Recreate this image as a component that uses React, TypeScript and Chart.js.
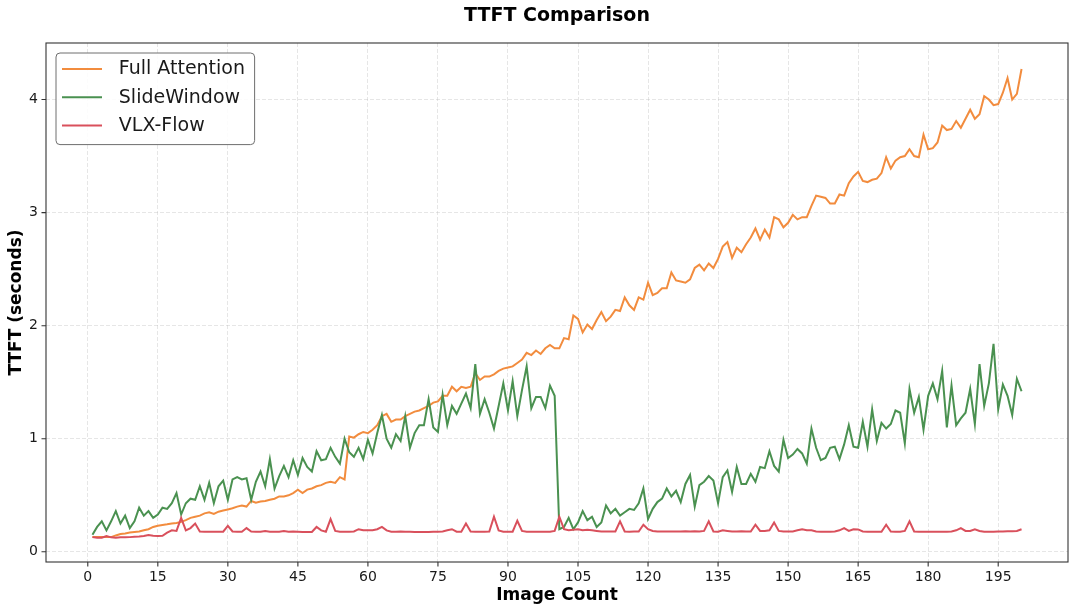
import React, { useEffect, useRef } from "react";
import { Chart, registerables } from "chart.js";

Chart.register(...registerables);

const imageCount: number[] = Array.from({ length: 200 }, (_, i) => i + 1);

const fullAttention: number[] = [
  0.13, 0.13, 0.13, 0.13, 0.13, 0.145, 0.157, 0.163, 0.17, 0.175,
  0.18, 0.19, 0.2, 0.22, 0.23, 0.237, 0.243, 0.25, 0.255, 0.265,
  0.28, 0.3, 0.31, 0.32, 0.34, 0.35, 0.335, 0.355, 0.365, 0.375,
  0.385, 0.4, 0.41, 0.4, 0.45, 0.435, 0.445, 0.45, 0.46, 0.47,
  0.49, 0.49, 0.5, 0.52, 0.55, 0.52, 0.55, 0.56, 0.58, 0.59,
  0.61, 0.62, 0.61, 0.66, 0.64, 1.02, 1.01, 1.04, 1.06, 1.05,
  1.08, 1.12, 1.2, 1.22, 1.15, 1.17, 1.17, 1.2, 1.22, 1.24,
  1.25, 1.27, 1.29, 1.32, 1.33, 1.38, 1.38, 1.46, 1.42, 1.46,
  1.45, 1.46, 1.58, 1.52, 1.55, 1.55, 1.57, 1.6, 1.62, 1.63,
  1.64, 1.67, 1.7, 1.76, 1.74, 1.78, 1.75, 1.8, 1.83, 1.8,
  1.8, 1.89, 1.88, 2.09, 2.06, 1.94, 2.01, 1.97, 2.05, 2.12,
  2.04, 2.08, 2.14, 2.13, 2.25, 2.18, 2.14, 2.25, 2.23, 2.38,
  2.27, 2.29, 2.33, 2.33, 2.47, 2.4, 2.39, 2.38, 2.41, 2.51,
  2.54, 2.49, 2.55, 2.51, 2.59, 2.7, 2.74, 2.6, 2.69, 2.65,
  2.72, 2.78, 2.86, 2.76, 2.85, 2.78, 2.96, 2.94, 2.87, 2.91,
  2.98, 2.94, 2.96, 2.96, 3.06, 3.15, 3.14, 3.13, 3.08, 3.08,
  3.16, 3.15, 3.26, 3.32, 3.36, 3.28, 3.27, 3.29, 3.3, 3.35,
  3.49, 3.39, 3.46, 3.49, 3.5, 3.56, 3.5, 3.49, 3.69, 3.56,
  3.57, 3.62, 3.77, 3.73, 3.74, 3.81, 3.75, 3.83, 3.91, 3.83,
  3.87, 4.03, 4.0, 3.95, 3.96, 4.06, 4.19, 4.0, 4.05, 4.27,
];

const slideWindow: number[] = [
  0.15, 0.22, 0.27, 0.19, 0.27, 0.36, 0.25, 0.32, 0.21, 0.27,
  0.39, 0.32, 0.36, 0.3, 0.33, 0.39, 0.38, 0.43, 0.52, 0.33,
  0.43, 0.47, 0.46, 0.58, 0.46, 0.61, 0.43, 0.58, 0.63, 0.46,
  0.64, 0.66, 0.64, 0.65, 0.46, 0.62, 0.71, 0.58, 0.82, 0.56,
  0.67, 0.76, 0.66, 0.81, 0.68, 0.83, 0.75, 0.71, 0.89, 0.81,
  0.82, 0.92, 0.84, 0.78, 1.0, 0.88, 0.84, 0.92, 0.82, 0.99,
  0.87, 1.05, 1.21, 1.0, 0.92, 1.04, 0.98, 1.2, 0.92, 1.05,
  1.12, 1.12, 1.35, 1.1, 1.06, 1.39, 1.12, 1.29, 1.22, 1.31,
  1.4, 1.27, 1.66, 1.22, 1.35, 1.23, 1.09, 1.29, 1.49, 1.25,
  1.51, 1.2, 1.43, 1.64, 1.27, 1.37, 1.37, 1.27, 1.47, 1.38,
  0.2, 0.22, 0.3, 0.2, 0.26, 0.36, 0.28, 0.31, 0.22, 0.26,
  0.41, 0.34, 0.38, 0.32, 0.35, 0.38, 0.37, 0.43, 0.56, 0.29,
  0.38, 0.44, 0.47, 0.56, 0.49, 0.54, 0.44, 0.6, 0.68, 0.4,
  0.59, 0.62, 0.67, 0.63, 0.43, 0.66, 0.72, 0.53, 0.75, 0.6,
  0.6, 0.69, 0.62, 0.75, 0.74, 0.89, 0.76, 0.71, 0.99, 0.83,
  0.86, 0.91, 0.87, 0.78, 1.09, 0.92, 0.81, 0.83, 0.92, 0.93,
  0.82, 0.95, 1.12, 0.93, 0.92, 1.15, 0.93, 1.26, 0.98, 1.14,
  1.09, 1.13, 1.25, 1.23, 0.96, 1.44, 1.23, 1.37, 1.08, 1.38,
  1.49, 1.35, 1.6, 1.1, 1.47, 1.12, 1.18, 1.23, 1.44, 1.13,
  1.66, 1.29, 1.49, 1.84, 1.26, 1.48, 1.38, 1.21, 1.53, 1.42,
];

const vlxFlow: number[] = [
  0.13, 0.125, 0.125, 0.14, 0.128, 0.125, 0.128, 0.128, 0.13, 0.133,
  0.135, 0.14, 0.148, 0.142, 0.14, 0.142, 0.17, 0.19, 0.185, 0.3,
  0.19, 0.21, 0.25, 0.18, 0.178, 0.178, 0.178, 0.178, 0.178, 0.23,
  0.18, 0.178, 0.178, 0.21, 0.18, 0.178, 0.178, 0.183, 0.178, 0.178,
  0.178, 0.183, 0.178, 0.18, 0.178, 0.176, 0.176, 0.176, 0.22, 0.19,
  0.178, 0.29, 0.185, 0.178, 0.178, 0.178, 0.18, 0.2, 0.19, 0.19,
  0.19, 0.2, 0.22, 0.19, 0.178, 0.178, 0.18, 0.178, 0.178, 0.176,
  0.176, 0.176, 0.176, 0.178, 0.178, 0.18, 0.19, 0.2, 0.178, 0.178,
  0.25, 0.18, 0.178, 0.178, 0.178, 0.18, 0.31, 0.19, 0.178, 0.178,
  0.178, 0.275, 0.185, 0.178, 0.178, 0.178, 0.178, 0.178, 0.178, 0.185,
  0.31, 0.2, 0.19, 0.195, 0.2, 0.19, 0.195, 0.19, 0.185, 0.18,
  0.18, 0.18, 0.18, 0.27, 0.18, 0.178, 0.18, 0.18, 0.24, 0.2,
  0.185, 0.18, 0.18, 0.18, 0.18, 0.18, 0.18, 0.182, 0.18, 0.182,
  0.18, 0.185, 0.27, 0.18, 0.178, 0.19, 0.185, 0.18, 0.18, 0.182,
  0.18, 0.18, 0.24, 0.185, 0.185, 0.19, 0.26, 0.185, 0.18, 0.18,
  0.18, 0.19, 0.2, 0.19, 0.19, 0.18, 0.178, 0.178, 0.178, 0.18,
  0.19, 0.21, 0.185, 0.2, 0.198, 0.18, 0.178, 0.178, 0.178, 0.178,
  0.24, 0.18, 0.178, 0.178, 0.185, 0.27, 0.18, 0.178, 0.178, 0.178,
  0.178, 0.178, 0.178, 0.178, 0.18, 0.19, 0.21, 0.185, 0.185, 0.2,
  0.185, 0.178, 0.178, 0.178, 0.18, 0.18, 0.182, 0.182, 0.185, 0.2,
];

const seriesNames: string[] = ["Full Attention", "SlideWindow", "VLX-Flow"];
const seriesColors: string[] = ["#f28c3e", "#4a9150", "#d9505c"];
const xTickValues: number[] = [0, 15, 30, 45, 60, 75, 90, 105, 120, 135, 150, 165, 180, 195];
const yTickValues: number[] = [0, 1, 2, 3, 4];
const chartTitle = "TTFT Comparison";
const xTitle = "Image Count";
const yTitle = "TTFT (seconds)";

const FONT = "'DejaVu Sans', sans-serif";

const framePlugin = {
  id: "framePlugin",
  afterDatasetsDraw(chart: any) {
    const { ctx, chartArea, scales } = chart;
    const { left, right, top, bottom } = chartArea;
    ctx.save();
    ctx.strokeStyle = "#333333";
    ctx.lineWidth = 1.1;
    ctx.setLineDash([]);
    ctx.strokeRect(left, top, right - left, bottom - top);
    // tick marks
    const tl = 4.5;
    ctx.beginPath();
    for (const v of xTickValues) {
      const px = scales.x.getPixelForValue(v);
      ctx.moveTo(px, bottom);
      ctx.lineTo(px, bottom + tl);
    }
    for (const v of yTickValues) {
      const py = scales.y.getPixelForValue(v);
      ctx.moveTo(left, py);
      ctx.lineTo(left - tl, py);
    }
    ctx.stroke();

    // title
    ctx.fillStyle = "#000000";
    ctx.font = `bold 19px ${FONT}`;
    ctx.textAlign = "center";
    ctx.textBaseline = "middle";
    ctx.fillText(chartTitle, (left + right) / 2, 16);

    // legend
    const fs = 19;
    ctx.font = `${fs}px ${FONT}`;
    const datasets = chart.data.datasets;
    let maxW = 0;
    for (const d of datasets) maxW = Math.max(maxW, ctx.measureText(d.label).width);
    const pad = 7.6;
    const handle = 38;
    const gap = 15.2;
    const rowH = 28.2;
    const bx = left + 10;
    const by = top + 10;
    const bw = pad + handle + gap + maxW + pad + 4;
    const bh = pad * 2 + rowH * (datasets.length - 1) + fs + 1;
    ctx.beginPath();
    const r = 4;
    ctx.moveTo(bx + r, by);
    ctx.lineTo(bx + bw - r, by);
    ctx.arcTo(bx + bw, by, bx + bw, by + r, r);
    ctx.lineTo(bx + bw, by + bh - r);
    ctx.arcTo(bx + bw, by + bh, bx + bw - r, by + bh, r);
    ctx.lineTo(bx + r, by + bh);
    ctx.arcTo(bx, by + bh, bx, by + bh - r, r);
    ctx.lineTo(bx, by + r);
    ctx.arcTo(bx, by, bx + r, by, r);
    ctx.closePath();
    ctx.fillStyle = "rgba(255,255,255,0.9)";
    ctx.fill();
    ctx.strokeStyle = "#6e6e6e";
    ctx.lineWidth = 1;
    ctx.stroke();
    ctx.textAlign = "left";
    ctx.textBaseline = "middle";
    datasets.forEach((d: any, i: number) => {
      const y = by + 16 + i * rowH;
      ctx.strokeStyle = d.borderColor;
      ctx.lineWidth = 2;
      ctx.beginPath();
      ctx.moveTo(bx + pad - 1.6, y);
      ctx.lineTo(bx + pad - 1.6 + handle + 2, y);
      ctx.stroke();
      ctx.fillStyle = "#1a1a1a";
      ctx.fillText(d.label, bx + pad + handle + gap + 2, y + 0.5);
    });
    ctx.restore();
  },
};

export default function App() {
  const canvasRef = useRef<HTMLCanvasElement | null>(null);

  useEffect(() => {
    if (!canvasRef.current) return;
    const values = [fullAttention, slideWindow, vlxFlow];
    const chart = new Chart(canvasRef.current, {
      type: "line",
      data: {
        datasets: values.map((vals, i) => ({
          label: seriesNames[i],
          data: imageCount.map((x, j) => ({ x, y: vals[j] })),
          borderColor: seriesColors[i],
          backgroundColor: seriesColors[i],
          borderWidth: 2,
          pointRadius: 0,
          tension: 0,
          fill: false,
          order: 3 - i,
        })),
      },
      options: {
        animation: false,
        responsive: true,
        maintainAspectRatio: false,
        layout: { padding: { left: 0, right: 12, top: 43, bottom: 0 } },
        plugins: {
          legend: { display: false },
          title: { display: false },
          tooltip: { enabled: false },
        },
        scales: {
          x: {
            type: "linear",
            min: -8.95,
            max: 209.95,
            afterBuildTicks: (scale: any) => {
              scale.ticks = xTickValues.map((v) => ({ value: v }));
            },
            afterFit: (scale: any) => {
              scale.height = 51;
            },
            grid: {
              color: "rgba(176,176,176,0.32)",
              lineWidth: 1,
              drawTicks: false,
            },
            border: { display: false, dash: [4, 2] },
            ticks: {
              padding: 7,
              color: "#1a1a1a",
              font: { family: FONT, size: 14 },
              maxRotation: 0,
              autoSkip: false,
            },
            title: {
              display: true,
              text: xTitle,
              color: "#000000",
              font: { family: FONT, size: 17, weight: "bold" },
              padding: { top: 0, bottom: 7 },
            },
          },
          y: {
            type: "linear",
            min: -0.09,
            max: 4.5,
            afterBuildTicks: (scale: any) => {
              scale.ticks = yTickValues.map((v) => ({ value: v }));
            },
            afterFit: (scale: any) => {
              scale.width = 46;
            },
            grid: {
              color: "rgba(176,176,176,0.32)",
              lineWidth: 1,
              drawTicks: false,
            },
            border: { display: false, dash: [4, 2] },
            ticks: {
              padding: 8,
              color: "#1a1a1a",
              font: { family: FONT, size: 14 },
            },
            title: {
              display: true,
              text: yTitle,
              color: "#000000",
              font: { family: FONT, size: 17, weight: "bold" },
              padding: { top: 6, bottom: 0 },
            },
          },
        },
      },
      plugins: [framePlugin],
    });
    return () => chart.destroy();
  }, []);

  return (
    <div style={{ position: "absolute", left: 0, top: 0, width: 1080, height: 613, background: "#ffffff" }}>
      <canvas ref={canvasRef} />
    </div>
  );
}
